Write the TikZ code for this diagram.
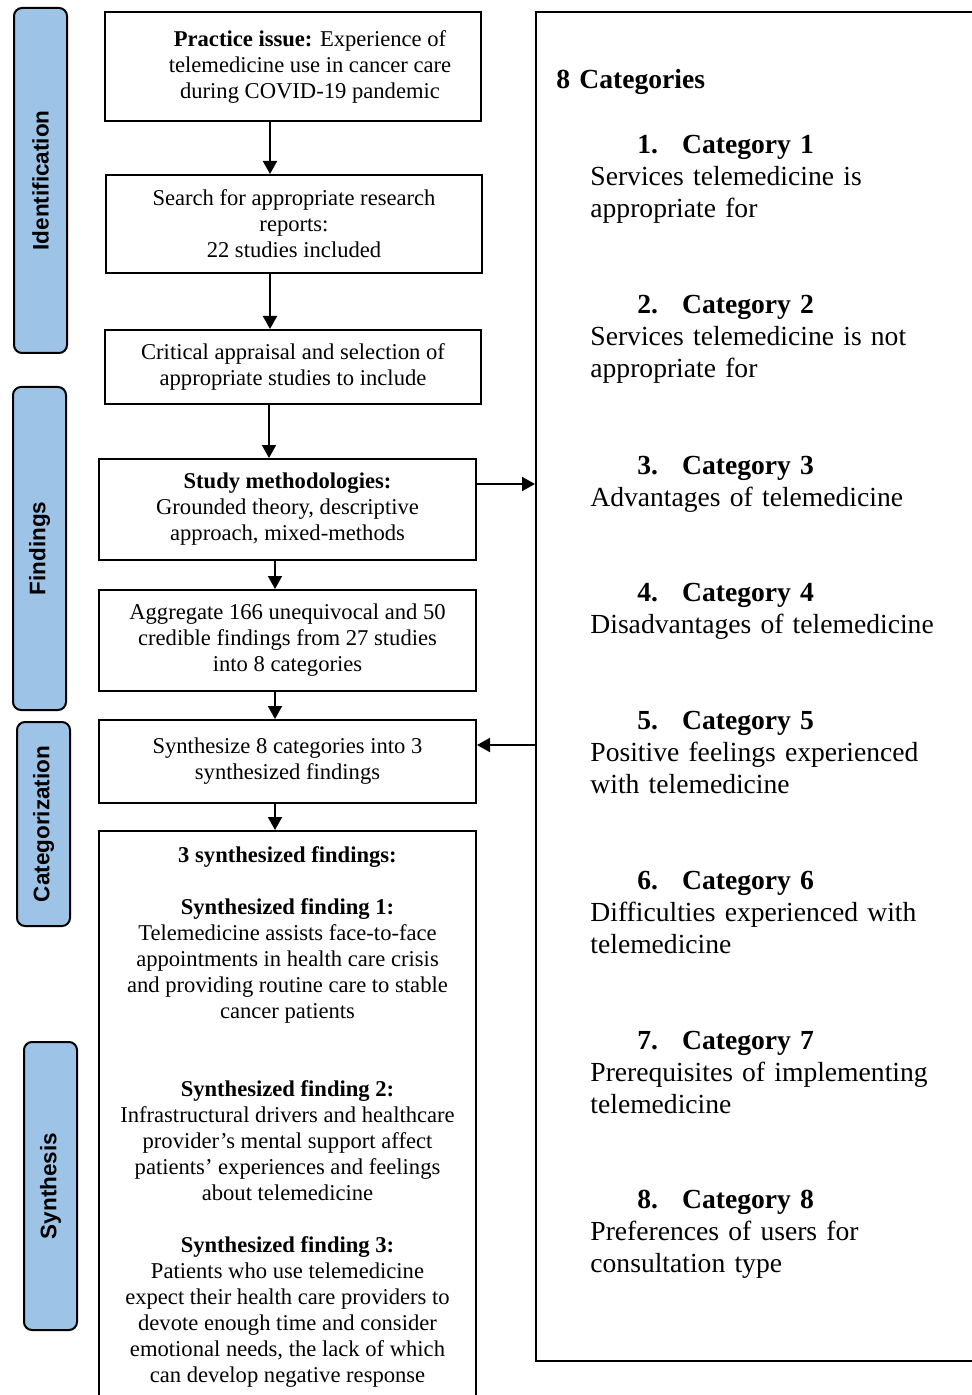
\documentclass[tikz,border=0pt]{standalone}
\usepackage{fontspec}
\setmainfont{Liberation Serif}
\setsansfont{Liberation Sans}
\usetikzlibrary{positioning,arrows.meta}
\definecolor{phaseblue}{RGB}{157,195,230}
\newcommand{\catline}[1]{\hspace*{23.5pt}\textbf{#1.}\hspace{12pt}\textbf{Category #1}}

\begin{document}
\begin{tikzpicture}[x=0.5pt,y=-0.5pt,
  box/.style={draw,line width=1pt,minimum width=188.5pt,align=center,inner sep=0pt,font=\fontsize{11.3}{13}\selectfont},
  phase/.style={draw,line width=1pt,fill=phaseblue,rounded corners=4pt,rotate=90,minimum height=26.5pt,inner sep=0pt,font=\sffamily\bfseries\fontsize{11.25}{13}\selectfont},
  cat/.style={anchor=base west,inner sep=0pt,text width=190pt,align=left,font=\fontsize{13.8}{16}\selectfont},
  arr/.style={-{Triangle[length=6.5pt,width=7pt]},line width=1pt}]
  \useasboundingbox (0,0) rectangle (971,1395);
  \fill[white] (0,0) rectangle (971,1395);

  % phases on the left
  \node[phase,minimum width=172.5pt] (ident) at (40.5,180.5) {Identification};
  \node[phase,minimum width=161.5pt] (find) at (39.5,548.5) {Findings};
  \node[phase,minimum width=102pt] (categ) at (43.5,824) {Categorization};
  \node[phase,minimum width=144pt] (synth) at (50.5,1186) {Synthesis};

  % process boxes
  \node[box,minimum width=188pt,minimum height=54.5pt] (issue) at (293,66.5)
    {\hspace*{17pt}\textbf{Practice issue:} Experience of\\\hspace*{17pt}telemedicine use in cancer care\\\hspace*{17pt}during COVID-19 pandemic};
  \node[box,minimum width=188pt,minimum height=49pt] (search) at (294,224)
    {Search for appropriate research\\reports:\\22 studies included};
  \node[box,minimum width=188pt,minimum height=37pt] (appraisal) at (293,367)
    {Critical appraisal and selection of\\appropriate studies to include};
  \node[box,minimum height=50.5pt] (methods) at (287.5,509.5)
    {\textbf{Study methodologies:}\\Grounded theory, descriptive\\approach, mixed-methods};
  \node[box,minimum height=50.5pt] (aggregate) at (287.5,640.5)
    {Aggregate 166 unequivocal and 50\\credible findings from 27 studies\\into 8 categories};
  \node[box,minimum height=41.5pt] (combine) at (287.5,761.5)
    {Synthesize 8 categories into 3\\synthesized findings};
  \node[box,minimum height=286pt] (result) at (287.5,1117)
    {\textbf{3 synthesized findings:}\\[13pt]
     \textbf{Synthesized finding 1:}\\Telemedicine assists face-to-face\\appointments in health care crisis\\and providing routine care to stable\\cancer patients\\[26pt]
     \textbf{Synthesized finding 2:}\\Infrastructural drivers and healthcare\\provider's mental support affect\\patients' experiences and feelings\\about telemedicine\\[13pt]
     \textbf{Synthesized finding 3:}\\Patients who use telemedicine\\expect their health care providers to\\devote enough time and consider\\emotional needs, the lack of which\\can develop negative response};

  % categories panel
  \node[draw,line width=1pt,minimum width=219.5pt,minimum height=674.5pt] (catbox) at (755.5,686.5) {};
  \node[cat] (cathead) at (556,89) {\textbf{8 Categories}};
  \node[cat] (cat1) at (590,154) {\catline{1}\\Services telemedicine is\\appropriate for};
  \node[cat] (cat2) at (590,314) {\catline{2}\\Services telemedicine is not\\appropriate for};
  \node[cat] (cat3) at (590,474) {\catline{3}\\Advantages of telemedicine};
  \node[cat] (cat4) at (590,601) {\catline{4}\\Disadvantages of telemedicine};
  \node[cat] (cat5) at (590,729) {\catline{5}\\Positive feelings experienced\\with telemedicine};
  \node[cat] (cat6) at (590,889) {\catline{6}\\Difficulties experienced with\\telemedicine};
  \node[cat] (cat7) at (590,1049) {\catline{7}\\Prerequisites of implementing\\telemedicine};
  \node[cat] (cat8) at (590,1208) {\catline{8}\\Preferences of users for\\consultation type};

  % connectors
  \draw[arr] ([xshift=-11.5pt]issue.south) -- ([xshift=-12pt]search.north);
  \draw[arr] ([xshift=-12pt]search.south) -- ([xshift=-11.5pt]appraisal.north);
  \draw[arr] ([xshift=-12pt]appraisal.south) -- ([xshift=-9.25pt]methods.north);
  \draw[arr] ([xshift=-6.25pt]methods.south) -- ([xshift=-6.25pt]aggregate.north);
  \draw[arr] ([xshift=-6.25pt]aggregate.south) -- ([xshift=-6.25pt]combine.north);
  \draw[arr] ([xshift=-6.25pt]combine.south) -- ([xshift=-6.25pt]result.north);
  \draw[arr] ([yshift=12.75pt]methods.east) -- ([yshift=12.75pt]methods.east -| catbox.west);
  \draw[arr] ([yshift=8.25pt]combine.east -| catbox.west) -- ([yshift=8.25pt]combine.east);
\end{tikzpicture}
\end{document}
